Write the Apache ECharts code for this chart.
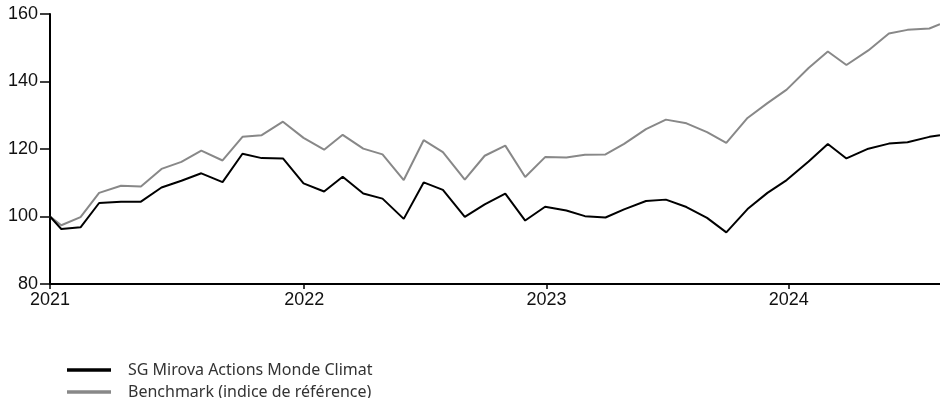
<!DOCTYPE html>
<html>
<head>
<meta charset="utf-8">
<script src="https://cdn.jsdelivr.net/npm/echarts@6/dist/echarts.min.js"></script>
<style>
  html, body { margin: 0; padding: 0; background: #fff; }
  #chart { width: 940px; height: 398px; }
</style>
</head>
<body>
<div id="chart"></div>
<script>
// dates of the points (base date, then month ends, last point mid-month)
const dates = [
  '2020-12-14', '2020-12-31',
  '2021-01-29', '2021-02-26', '2021-03-31', '2021-04-30', '2021-05-31', '2021-06-30',
  '2021-07-30', '2021-08-31', '2021-09-30', '2021-10-29', '2021-11-30', '2021-12-31',
  '2022-01-31', '2022-02-28', '2022-03-31', '2022-04-29', '2022-05-31', '2022-06-30',
  '2022-07-29', '2022-08-31', '2022-09-30', '2022-10-31', '2022-11-30', '2022-12-30',
  '2023-01-31', '2023-02-28', '2023-03-31', '2023-04-28', '2023-05-31', '2023-06-30',
  '2023-07-31', '2023-08-31', '2023-09-29', '2023-10-31', '2023-11-30', '2023-12-29',
  '2024-01-31', '2024-02-29', '2024-03-28', '2024-04-30', '2024-05-31', '2024-06-28',
  '2024-07-31', '2024-08-16'
];

// SG Mirova Actions Monde Climat
const fundValues = [
  100.0, 96.3,
  96.8, 104.0, 104.4, 104.4, 108.6, 110.6, 112.8, 110.2, 118.6, 117.3, 117.2, 109.8,
  107.4, 111.8, 106.8, 105.3, 99.3, 110.1, 107.9, 99.9, 103.6, 106.8, 98.8, 102.9,
  101.8, 100.1, 99.7, 102.1, 104.6, 105.0, 102.8, 99.6, 95.3, 102.2, 107.0, 110.8,
  116.3, 121.5, 117.2, 120.1, 121.6, 122.0, 123.6, 124.1
];

// Benchmark (indice de référence)
const benchValues = [
  100.0, 97.4,
  99.8, 107.0, 109.1, 108.9, 114.1, 116.2, 119.5, 116.6, 123.6, 124.1, 128.1, 123.3,
  119.8, 124.2, 120.1, 118.4, 110.8, 122.6, 119.1, 110.9, 118.0, 121.0, 111.7, 117.6,
  117.5, 118.3, 118.4, 121.5, 125.9, 128.7, 127.6, 125.0, 121.8, 129.2, 133.6, 137.6,
  144.0, 148.9, 144.9, 149.2, 154.2, 155.3, 155.7, 157.0
];

const seriesNames = ['SG Mirova Actions Monde Climat', 'Benchmark (indice de référence)'];

// x ticks: the first one sits on the axis origin
const tickDates = [dates[0], '2022-01-01', '2023-01-01', '2024-01-01'];
const tickLabels = ['2021', '2022', '2023', '2024'];

const toTime = (d) => echarts.time.parse(d).getTime();
const times = dates.map(toTime);
const tickTimes = tickDates.map(toTime);

const toPairs = (vals) => times.map((t, i) => [t, vals[i]]);

const option = {
  animation: false,
  grid: {
    left: 50,
    right: 0,
    top: 14,
    bottom: 114
  },
  legend: {
    orient: 'vertical',
    left: 67,
    top: 359.5,
    height: 60,
    padding: 0,
    itemWidth: 44,
    itemHeight: 3.5,
    itemGap: 1,
    icon: 'rect',
    textStyle: {
      fontFamily: 'Noto Sans',
      fontSize: 16,
      color: '#333',
      lineHeight: 15,
      padding: [0, 0, 6, 12] // lift the text a little above the line
    },
    data: seriesNames
  },
  xAxis: {
    // linear time (ms) so the year ticks can be placed exactly
    type: 'value',
    min: times[0],
    max: times[times.length - 1],
    axisLine: { lineStyle: { color: '#000', width: 2 } },
    axisTick: {
      length: 5,
      customValues: tickTimes,
      lineStyle: { color: '#000', width: 1.5 }
    },
    splitLine: { show: false },
    axisLabel: {
      color: '#111',
      fontFamily: 'Liberation Sans',
      fontSize: 18,
      margin: 7,
      hideOverlap: false,
      showMinLabel: true,
      customValues: tickTimes,
      formatter: (value) => {
        const i = tickTimes.indexOf(value);
        return i >= 0 ? tickLabels[i] : '';
      }
    }
  },
  yAxis: {
    type: 'value',
    min: 80,
    max: 160,
    interval: 20,
    axisLine: { show: true, lineStyle: { color: '#000', width: 2 } },
    axisTick: { show: true, length: 10, lineStyle: { color: '#000', width: 1.5 } },
    splitLine: { show: false },
    axisLabel: {
      color: '#111',
      fontFamily: 'Liberation Sans',
      fontSize: 18,
      margin: 12
    }
  },
  series: [
    {
      name: seriesNames[0],
      type: 'line',
      data: toPairs(fundValues),
      symbol: 'none',
      color: '#000',
      lineStyle: { color: '#000', width: 2 },
      z: 3
    },
    {
      name: seriesNames[1],
      type: 'line',
      data: toPairs(benchValues),
      symbol: 'none',
      color: '#888',
      lineStyle: { color: '#888', width: 2 },
      z: 2
    }
  ]
};

const chart = echarts.init(document.getElementById('chart'), null, { renderer: 'canvas' });
chart.setOption(option);
</script>
</body>
</html>
